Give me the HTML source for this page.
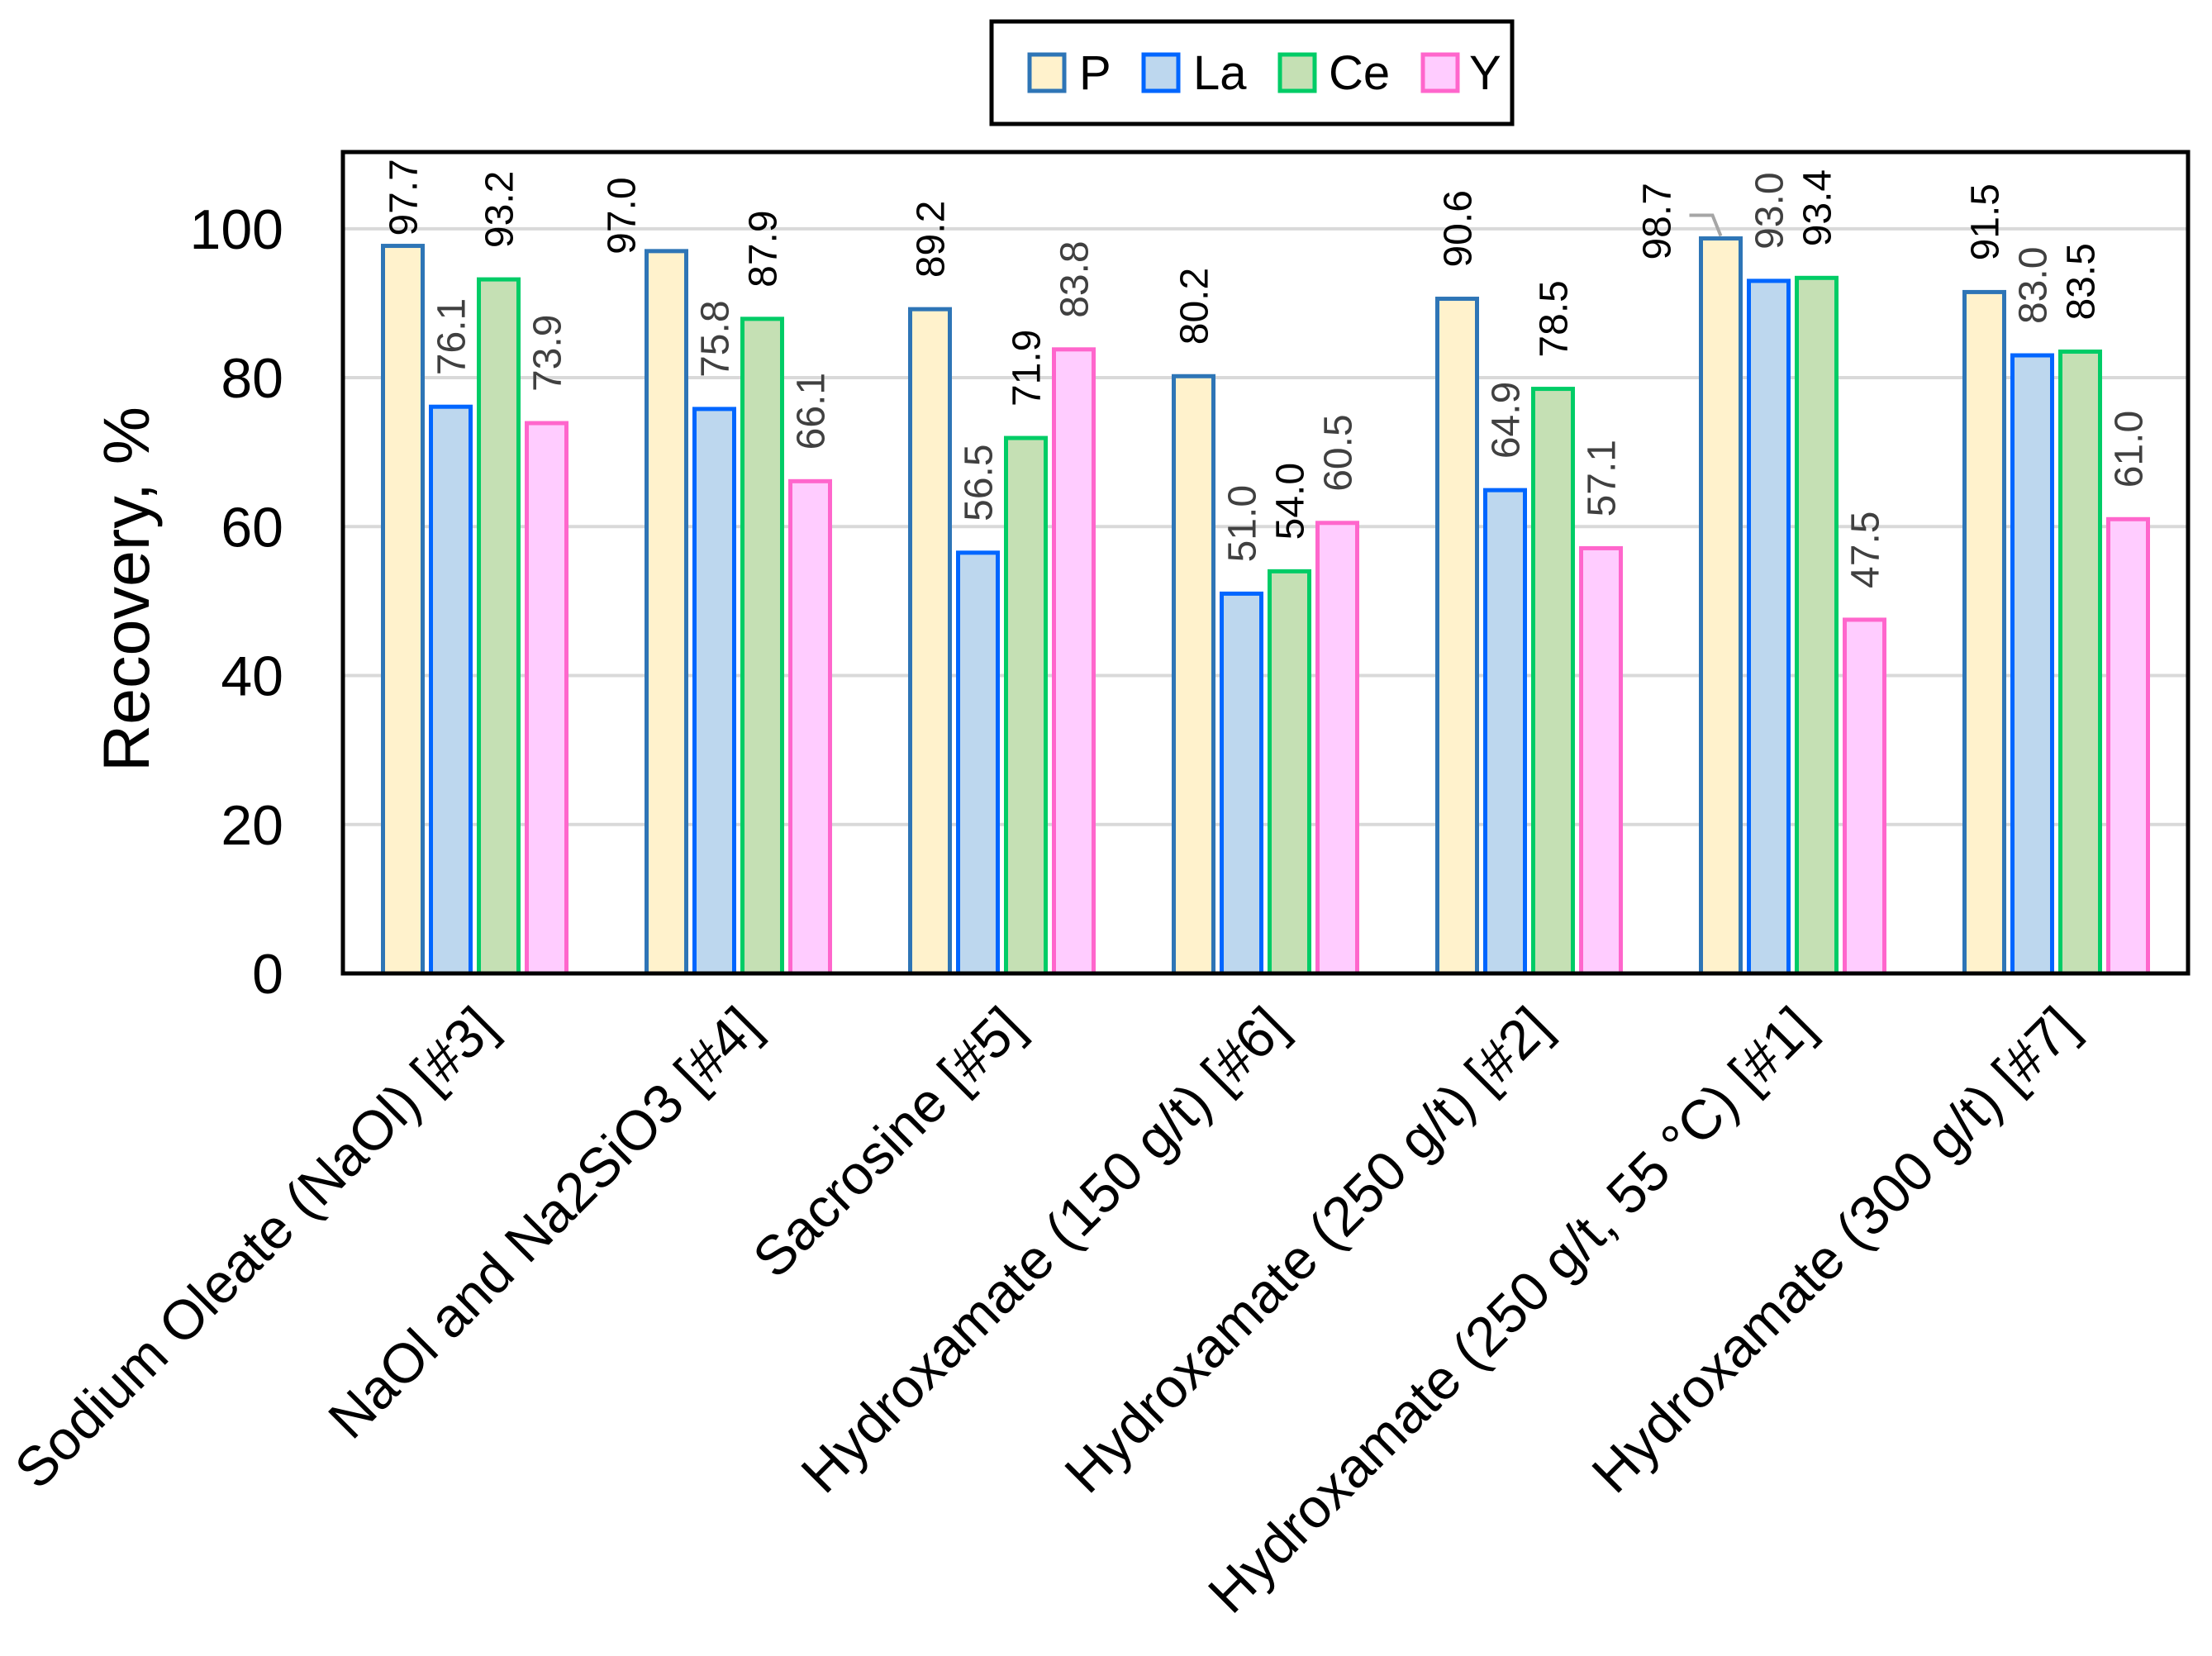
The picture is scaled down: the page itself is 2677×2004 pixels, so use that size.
<!DOCTYPE html>
<html><head><meta charset="utf-8"><style>
html,body{margin:0;padding:0;background:#fff;}
svg{display:block;font-family:"Liberation Sans","DejaVu Sans",sans-serif;}
</style></head><body>
<svg id="chart" width="2677" height="2004" viewBox="0 0 2677 2004" xmlns="http://www.w3.org/2000/svg">
<defs><clipPath id="pc"><rect x="415" y="184" width="2233" height="994"/></clipPath></defs>
<g id="grid"></g>
<g id="bars"></g>
<g id="labels" clip-path="url(#pc)"></g>
<rect x="415" y="184" width="2233" height="994" fill="none" stroke="#000" stroke-width="5"/>
<g id="yticks"></g>
<g id="xticks"></g>
<text x="0" y="0" transform="translate(180,713) rotate(-90)" text-anchor="middle" font-size="79" fill="#000">Recovery, %</text>
<g>
<rect x="1200" y="26" width="630" height="124" fill="#fff" stroke="#000" stroke-width="5"/>
<g id="legend"></g>
</g>
</svg>
<script>
const categories=["Sodium Oleate (NaOl) [#3]","NaOl and Na2SiO3 [#4]","Sacrosine [#5]","Hydroxamate (150 g/t) [#6]","Hydroxamate (250 g/t) [#2]","Hydroxamate (250 g/t, 55 °C) [#1]","Hydroxamate (300 g/t) [#7]"];
const seriesNames=["P","La","Ce","Y"];
const valuesP=[97.7,97.0,89.2,80.2,90.6,98.7,91.5];
const valuesLa=[76.1,75.8,56.5,51.0,64.9,93.0,83.0];
const valuesCe=[93.2,87.9,71.9,54.0,78.5,93.4,83.5];
const valuesY=[73.9,66.1,83.8,60.5,57.1,47.5,61.0];
const yTicks=[0,20,40,60,80,100];

const NS="http://www.w3.org/2000/svg";
const L=415,R=2648,T=184,B=1178,YMAX=110.3;
const fills=["#FFF2CC","#BDD7EE","#C5E0B4","#FFCCFF"];
const strokes=["#2E75B6","#0066FF","#00CC66","#FF66CC"];
const labelCol=["#000","#404040","#000","#404040"];
const series=[valuesP,valuesLa,valuesCe,valuesY];
const band=(R-L)/categories.length, bw=48, pitch=58;
function y(v){return B-(v/YMAX)*(B-T);}
function xc(i){return L+band*(i+0.5);}
function mk(tag,attrs,parent){const e=document.createElementNS(NS,tag);for(const k in attrs)e.setAttribute(k,attrs[k]);parent.appendChild(e);return e;}
const g=document.getElementById('grid'),bg=document.getElementById('bars'),lg=document.getElementById('labels'),yt=document.getElementById('yticks'),xt=document.getElementById('xticks'),leg=document.getElementById('legend');
yTicks.forEach(t=>{
  if(t>0){const l=mk('line',{x1:L,x2:R,y1:y(t),y2:y(t),stroke:'#D9D9D9','stroke-width':4},g);
  
  }
  const tx=mk('text',{x:343,y:y(t)+24,'text-anchor':'end','font-size':68,fill:'#000'},yt);
  tx.textContent=t;
  
  
});
const offs={"0-0":[0,12],"0-1":[-55,-4],"0-5":[-78,-26]};
categories.forEach((c,i)=>{
  series.forEach((s,j)=>{
    const cx=xc(i)+(j-1.5)*pitch, v=s[i];
    const r=mk('rect',{x:cx-bw/2,y:y(v),width:bw,height:B-y(v),fill:fills[j],stroke:strokes[j],'stroke-width':5},bg);
    
    
    const o=offs[j+'-'+i]||[0,38];
    const lx=cx+o[0]+17, ly=y(v)-o[1];
    const t=mk('text',{x:0,y:0,transform:'translate('+lx+','+ly+') rotate(-90)','font-size':48,fill:labelCol[j]},lg);
    t.textContent=v.toFixed(1);
    
    
    if(j===0&&i===5){const p=mk('polyline',{points:(cx-38)+','+(y(v)-28)+' '+(cx-10)+','+(y(v)-28)+' '+(cx)+','+(y(v)-3),fill:'none',stroke:'#A6A6A6','stroke-width':4},bg);
      
      }
  });
  const tx=mk('text',{x:0,y:0,transform:'translate('+(xc(i)+30)+',1247) rotate(-45)','text-anchor':'end','font-size':67,fill:'#000'},xt);
  tx.textContent=c;
  
  
});
const lx=[1246,1384,1549,1722], tx2=[1306,1444,1608,1778];
seriesNames.forEach((n,j)=>{
  const r=mk('rect',{x:lx[j],y:66,width:42,height:44,fill:fills[j],stroke:strokes[j],'stroke-width':5},leg);
  
  
  const t=mk('text',{x:tx2[j],y:108,'font-size':58,fill:'#000'},leg);
  t.textContent=n;
  
  
});
</script>
</body></html>
